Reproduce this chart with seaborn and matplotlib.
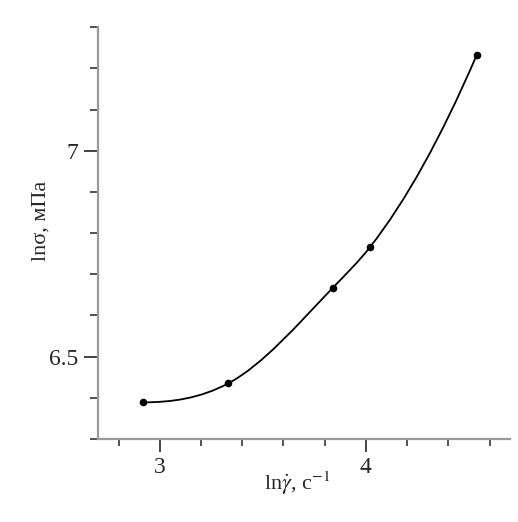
import numpy as np
import pandas as pd
import matplotlib
matplotlib.use("Agg")
import matplotlib.pyplot as plt
import matplotlib.font_manager as fm
from matplotlib.path import Path
from matplotlib.patches import PathPatch
import seaborn as sns
from matplotlib.ticker import MultipleLocator

# Datos
ln_gamma = [2.917, 3.332, 3.839, 4.020, 4.537]
ln_sigma = [6.389, 6.435, 6.667, 6.766, 7.232]

df = pd.DataFrame({"x": ln_gamma, "y": ln_sigma})

sns.set_style("white")

# buscar una fuente tipo Times
serif_name = "Liberation Serif"
for f in fm.findSystemFonts():
    base = f.split("/")[-1].lower()
    if base.startswith("liberationserif-regular"):
        fm.fontManager.addfont(f)
        serif_name = fm.FontProperties(fname=f).get_name()
        break
plt.rcParams["font.family"] = [serif_name, "DejaVu Serif"]
plt.rcParams["mathtext.fontset"] = "stix"

fig = plt.figure(figsize=(5.18, 5.22), dpi=100)
ax = fig.add_axes([0.189, 0.159, 0.796, 0.789])

sns.scatterplot(data=df, x="x", y="y", s=30, color="black", edgecolor="black",
                linewidth=0, zorder=3, ax=ax)

# curva suave (Hermite cúbica dibujada como Bezier)
x = np.array(ln_gamma)
y = np.array(ln_sigma)
m = np.gradient(y, x, edge_order=2)
m[0] = max(m[0], 0)
verts = [(x[0], y[0])]
codes = [Path.MOVETO]
for i in range(len(x) - 1):
    h = x[i + 1] - x[i]
    verts += [(x[i] + h / 3, y[i] + m[i] * h / 3),
              (x[i + 1] - h / 3, y[i + 1] - m[i + 1] * h / 3),
              (x[i + 1], y[i + 1])]
    codes += [Path.CURVE4] * 3
ax.add_patch(PathPatch(Path(verts, codes), facecolor="none", edgecolor="black", lw=1.3))

ax.set_xlim(2.7, 4.7)
ax.set_ylim(6.3, 7.3)
ax.xaxis.set_major_locator(MultipleLocator(1))
ax.xaxis.set_minor_locator(MultipleLocator(0.2))
ax.yaxis.set_minor_locator(MultipleLocator(0.1))
ax.set_yticks([6.5, 7])
ax.set_yticklabels(["6.5", "7"])

for s in ["top", "right"]:
    ax.spines[s].set_visible(False)
for s in ["left", "bottom"]:
    ax.spines[s].set_color("#9a9a9a")
    ax.spines[s].set_linewidth(1.6)

ax.tick_params(which="major", direction="out", length=10, width=1.2,
               color="#222222", labelsize=17, pad=4)
ax.tick_params(axis="x", which="major", length=9)
ax.tick_params(which="minor", direction="out", length=6, width=1.2, color="#333333")
ax.tick_params(axis="x", which="minor", length=5)
ax.tick_params(left=True, bottom=True, which="both")

ax.set_xlabel(r"ln$\dot{\gamma}$, с$^{-1}$", fontsize=16)
ax.set_ylabel("lnσ, мПа", fontsize=16)
ax.xaxis.set_label_coords(0.483, -0.075)
ax.yaxis.set_label_coords(-0.115, 0.53)

fig.savefig("out.png", dpi=100)
